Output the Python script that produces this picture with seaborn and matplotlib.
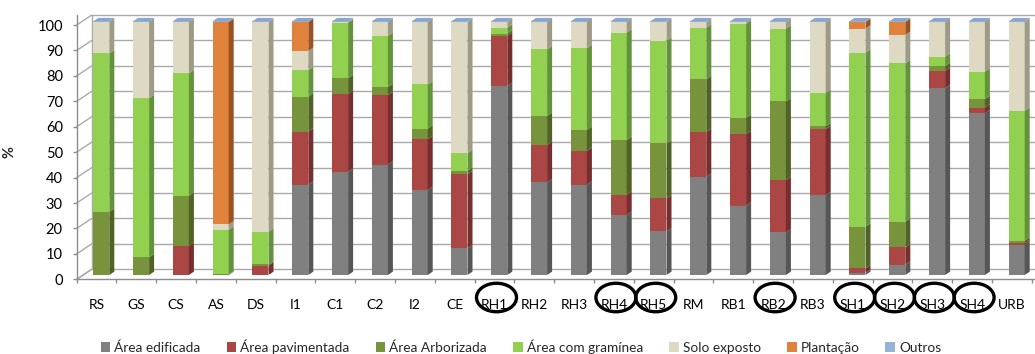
import numpy as np
import matplotlib
matplotlib.use("Agg")
import matplotlib.pyplot as plt
from matplotlib.patches import Polygon, Ellipse, Patch
import seaborn as sns

# ---- data (% of area per land-cover class) ----
categories = ["RS", "GS", "CS", "AS", "DS", "I1", "C1", "C2", "I2", "CE",
              "RH1", "RH2", "RH3", "RH4", "RH5", "RM", "RB1", "RB2", "RB3",
              "SH1", "SH2", "SH3", "SH4", "URB"]

area_edificada = [0, 0, 0, 0, 0, 35.7, 40.8, 43.6, 33.6, 10.5,
                  74.7, 36.6, 35.7, 23.8, 17.2, 38.8, 27.4, 16.8, 31.6,
                  0.8, 4.1, 73.8, 63.9, 11.8]
area_pavimentada = [0, 0, 11.6, 0, 3.7, 21.0, 30.8, 27.5, 20.1, 29.4,
                    19.8, 14.8, 13.4, 7.9, 13.1, 17.8, 28.3, 20.7, 26.0,
                    1.8, 6.8, 6.9, 2.3, 0.7]
area_arborizada = [25.0, 7.0, 19.7, 0.3, 0.5, 13.8, 6.2, 3.2, 4.2, 1.3,
                   0.9, 11.5, 8.3, 21.7, 21.7, 20.8, 6.5, 31.1, 1.1,
                   16.5, 10.2, 1.9, 3.3, 1.1]
area_graminea = [62.6, 62.9, 48.4, 17.6, 12.9, 10.5, 21.9, 20.2, 17.4, 7.0,
                 2.4, 26.3, 32.3, 42.4, 40.6, 20.4, 37.1, 28.8, 13.4,
                 68.8, 62.6, 3.7, 10.9, 51.3]
solo_exposto = [12.4, 30.1, 20.3, 2.1, 82.9, 7.6, 0.3, 5.5, 24.7, 51.8,
                2.2, 10.8, 10.3, 4.2, 7.4, 2.2, 0.7, 2.6, 27.9,
                9.5, 11.2, 13.7, 19.6, 35.1]
plantacao = [0, 0, 0, 80.0, 0, 11.4, 0, 0, 0, 0,
             0, 0, 0, 0, 0, 0, 0, 0, 0,
             2.6, 5.1, 0, 0, 0]
outros = [0.3] * 24

series_labels = ["Área edificada", "Área pavimentada", "Área Arborizada",
                 "Área com gramínea", "Solo exposto", "Plantação", "Outros"]
circled = ["RH1", "RH4", "RH5", "RB2", "SH1", "SH2", "SH3", "SH4"]

# ---- styling ----
front_colors = ["#808080", "#AA4644", "#77933C", "#92D050", "#DDD9C3", "#E0823B", "#95B3D7"]
side_colors = ["#565656", "#762F2E", "#4F6327", "#62923A", "#9E9A86", "#9A5220", "#6A84A8"]

sns.set_style("white")
plt.rcParams["font.family"] = ["Lato", "DejaVu Sans"]

FIG_W, FIG_H = 1035, 354
fig = plt.figure(figsize=(FIG_W / 100, FIG_H / 100), dpi=100)
ax_left, ax_bottom, ax_top = 76.7, 279.3, 15.0
ax = fig.add_axes([ax_left / FIG_W, (FIG_H - ax_bottom) / FIG_H,
                   1 - ax_left / FIG_W, (ax_bottom - ax_top) / FIG_H])

# pseudo-3D geometry (data units)
BAR_W = 0.402
DX, DY = 0.126, 1.32          # bar depth
FRONT_X, BACK_X = -0.618, -0.241


def front_y(v):
    return -1.7 + 1.005 * v


def back_y(v):
    return 2.25 + 1.005 * v


XMAX = 23.46
grid_c = "#A9A9A9"

# back wall grid, left wall diagonals and floor
for v in range(0, 101, 10):
    ax.plot([BACK_X, XMAX], [back_y(v), back_y(v)], color=grid_c, lw=1.0, zorder=1,
            clip_on=False)
    ax.plot([FRONT_X, BACK_X], [front_y(v), back_y(v)], color=grid_c, lw=1.0, zorder=1,
            clip_on=False)
ax.plot([BACK_X, BACK_X], [back_y(0), back_y(100)], color=grid_c, lw=1.0, zorder=1)
ax.plot([FRONT_X, BACK_X], [-1.7, back_y(0)], color=grid_c, lw=1.0, zorder=1)

# stacked front faces through seaborn, with shaded side faces
n = len(categories)
series = [area_edificada, area_pavimentada, area_arborizada, area_graminea,
          solo_exposto, plantacao, outros]
bottom = np.zeros(n)
for vals, fc, sc in zip(series, front_colors, side_colors):
    vals = np.asarray(vals, dtype=float)
    sns.barplot(x=categories, y=vals, bottom=bottom, color=fc, width=BAR_W,
                saturation=1, errorbar=None, linewidth=0, ax=ax, zorder=3)
    for i in range(n):
        if vals[i] <= 0:
            continue
        b, t = bottom[i], bottom[i] + vals[i]
        xr = i + BAR_W / 2
        ax.add_patch(Polygon([(xr, b), (xr + DX, b + DY), (xr + DX, t + DY), (xr, t)],
                             closed=True, facecolor=sc, edgecolor="none", zorder=3))
    bottom += vals

# top faces
for i in range(n):
    T = bottom[i]
    xl, xr = i - BAR_W / 2, i + BAR_W / 2
    ax.add_patch(Polygon([(xl, T), (xr, T), (xr + DX, T + DY), (xl + DX, T + DY)],
                         closed=True, facecolor="#8AA6CE", edgecolor="none", zorder=3))

# axes limits and frame
ax.set_xlim(FRONT_X, XMAX)
ax.set_ylim(-1.7, 102.77)
for s in ["top", "right"]:
    ax.spines[s].set_visible(False)
for s in ["left", "bottom"]:
    ax.spines[s].set_color("#8C8C8C")
    ax.spines[s].set_linewidth(1.0)
    ax.spines[s].set_zorder(2)

yvals = list(range(0, 101, 10))
ax.set_yticks([front_y(v) for v in yvals])
ax.set_yticklabels([str(v) for v in yvals])
ax.tick_params(axis="y", direction="out", length=3, width=1.0, color="#8C8C8C",
               pad=7, labelsize=10.5, labelcolor="black", left=True)

ax.set_xticks([FRONT_X + k for k in range(n + 1) if FRONT_X + k <= XMAX])
ax.set_xticklabels([])
ax.set_xticks([i - 0.118 for i in range(n)], minor=True)
ax.set_xticklabels(categories, minor=True)
ax.tick_params(axis="x", which="major", direction="out", length=3, width=1.0,
               color="#8C8C8C", bottom=True)
ax.tick_params(axis="x", which="minor", length=0, pad=14, labelsize=10,
               labelcolor="black")
ax.set_xlabel("")
ax.grid(False)

ax.set_ylabel("%", fontweight="bold", fontsize=10.5)
ax.yaxis.set_label_coords((16.7 - ax_left) / (FIG_W - ax_left),
                          (ax_bottom - 151.7) / (ax_bottom - ax_top))

# rings around selected category labels
px_y = 2.53
ring_y = (275 - 297.5) / px_y
for name in circled:
    i = categories.index(name)
    ax.add_patch(Ellipse((i - 0.07, ring_y), width=40 / 39.8, height=28.5 / px_y,
                         facecolor="none", edgecolor="black", lw=2.4,
                         clip_on=False, zorder=5))

# legend
handles = [Patch(facecolor=c, edgecolor="none") for c in front_colors]
fig.legend(handles, series_labels, loc="center", ncol=7, frameon=False,
           bbox_to_anchor=(521 / FIG_W, (FIG_H - 346.5) / FIG_H),
           fontsize=9.8, handlelength=0.72, handleheight=0.72, handletextpad=0.3,
           columnspacing=1.9, borderpad=0, borderaxespad=0)

fig.savefig("out.png", dpi=100)
